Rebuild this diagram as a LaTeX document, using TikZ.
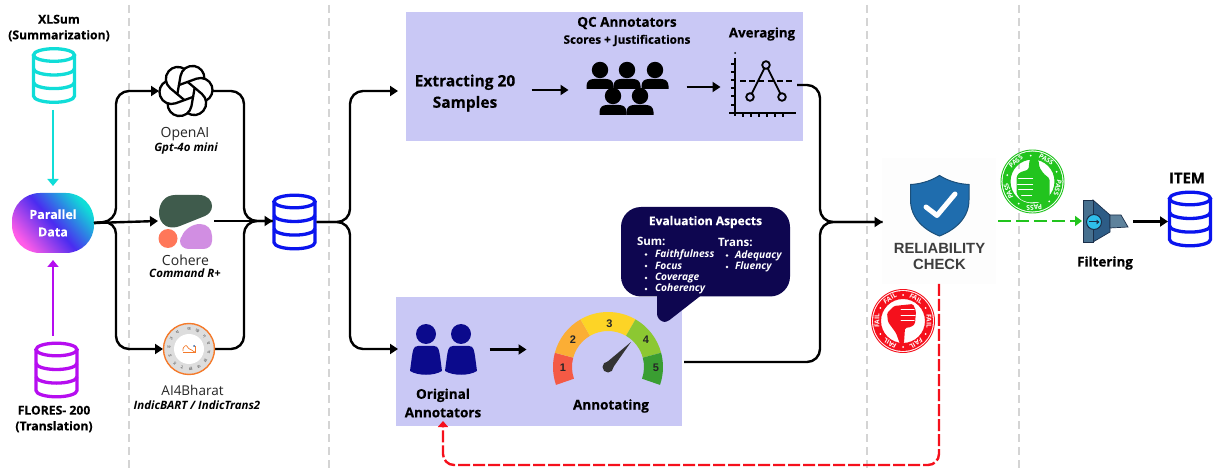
\documentclass[tikz,border=0pt]{standalone}
\usepackage{fontspec}
\setmainfont{Open Sans}
\newfontfamily\devafont[Script=Devanagari]{Noto Sans}
\newfontfamily\gaugefont{Liberation Sans}
\newfontfamily\checkfont{Liberation Sans}
\usetikzlibrary{arrows.meta}
\definecolor{panel}{HTML}{C9C8F5}
\definecolor{bubblec}{HTML}{0E0650}
\definecolor{sepc}{HTML}{D4D4D4}
\definecolor{cyanc}{HTML}{10DDD8}
\definecolor{purplec}{HTML}{B60DF0}
\definecolor{bluec}{HTML}{0A14EE}
\definecolor{annc}{HTML}{0B0A8C}
\definecolor{greenc}{HTML}{22C41E}
\definecolor{redc}{HTML}{F5101C}
\definecolor{cohG}{HTML}{3F5B4C}
\definecolor{cohO}{HTML}{FF7759}
\definecolor{cohP}{HTML}{D18EE2}
\definecolor{bhaG}{HTML}{DDDDDD}
\definecolor{bhaO}{HTML}{F47A2B}
\definecolor{bhaB}{HTML}{2F5F9E}
\definecolor{gR}{HTML}{F45A45}
\definecolor{gO}{HTML}{FBAE35}
\definecolor{gY}{HTML}{FDD426}
\definecolor{gG}{HTML}{8CC832}
\definecolor{gD}{HTML}{3A9E32}
\definecolor{dk}{HTML}{333333}
\definecolor{shF}{HTML}{1F6DAE}
\definecolor{shD}{HTML}{1B4F7A}
\definecolor{fA}{HTML}{2D5C86}
\definecolor{fB}{HTML}{5E829C}
\definecolor{fC}{HTML}{47708F}
\definecolor{fD}{HTML}{2FBEEA}
\definecolor{fE}{HTML}{1B2F4A}
\definecolor{pdP}{HTML}{FF5CE8}
\definecolor{pdV}{HTML}{4A2CF0}
\newcommand{\heavy}{\bfseries\addfontfeature{FakeBold=0.3}}
\tikzset{
 box/.style={inner sep=0pt,outer sep=0pt},
 lbl/.style={inner sep=0pt,outer sep=0pt,align=center,font=\fontsize{#1}{#1}\selectfont\heavy},
 lbl/.default=12,
 thin lbl/.style={inner sep=0pt,outer sep=0pt,align=center,text=black!85,font=\fontsize{#1}{#1}\selectfont},
 model/.style={inner sep=0pt,outer sep=0pt,align=center,font=\fontsize{11.5}{11.5}\selectfont\bfseries\itshape},
 conn/.style={draw=black,line width=2.4pt,rounded corners=13pt},
 arr/.style={-{Triangle[length=8pt,width=10pt]}},
 sep/.style={draw=sepc,line width=2pt,dash pattern=on 8pt off 5pt},
 lit/.style={inner sep=0pt,outer sep=0pt,text=white,anchor=west,font=\fontsize{10.2}{10.2}\selectfont\bfseries\itshape},
 dotc/.style={circle,fill=white,minimum size=2.8pt,inner sep=0pt},
}
\newcommand{\dbpic}[3]{%
 \begin{scope}[shift={(#1,#2)},y=1pt,line width=3.3pt,draw=#3]
 \draw (0,20.5) ellipse [x radius=20.5,y radius=6.3];
 \draw (-20.5,20.5) -- (-20.5,-20.5) arc[start angle=180,end angle=360,x radius=20.5,y radius=6.3] -- (20.5,20.5);
 \draw (-20.5,6.8) arc[start angle=180,end angle=360,x radius=20.5,y radius=6.3];
 \draw (-20.5,-6.8) arc[start angle=180,end angle=360,x radius=20.5,y radius=6.3];
 \end{scope}}
\newcommand{\qcperson}[2]{%
 \fill (#1,#2) circle[radius=8.2pt];
 \fill (#1-13.5,#2+19) -- (#1-13.5,#2+16) .. controls (#1-13.5,#2+11) and (#1-10,#2+9) .. (#1-6,#2+9) -- (#1+6,#2+9) .. controls (#1+10,#2+9) and (#1+13.5,#2+11) .. (#1+13.5,#2+16) -- (#1+13.5,#2+19) -- cycle;}
\newcommand{\annperson}[2]{%
 \fill[annc] (#1,#2) circle[radius=10pt];
 \fill[annc] (#1-8,#2+12) -- (#1+8,#2+12) .. controls (#1+13,#2+12) and (#1+13,#2+17) .. (#1+14,#2+22) -- (#1+16,#2+37) .. controls (#1+8,#2+42) and (#1-8,#2+42) .. (#1-16,#2+37) -- (#1-14,#2+22) .. controls (#1-13,#2+17) and (#1-13,#2+12) .. (#1-8,#2+12) -- cycle;}
\newcommand{\gseg}[3]{\fill[#3] (#1:55) arc[start angle=#1,end angle=#2,radius=55] -- (#2:36) arc[start angle=#2,end angle=#1,radius=36] -- cycle;}
\newcommand{\stampring}[3]{% x y color, rings
 \begin{scope}[shift={(#1,#2)},y=1pt]
 \draw[#3,line width=.9pt] (0,0) circle[radius=31.5];
 \draw[#3,line width=8pt] (0,0) circle[radius=26];
 \end{scope}}
\begin{document}
\begin{tikzpicture}[x=1pt,y=-1pt]
\useasboundingbox (0,0) rectangle (1213,470);
\fill[white] (0,0) rectangle (1213,470);
% separators
\coordinate (s1a) at (129,5); \coordinate (s1b) at (129,470);
\coordinate (s2a) at (329,5); \coordinate (s2b) at (329,470);
\coordinate (s3a) at (867,5); \coordinate (s3b) at (867,470);
\coordinate (s4a) at (1019,5); \coordinate (s4b) at (1019,470);
\draw[sep] (s1a)--(s1b); \draw[sep] (s2a)--(s2b); \draw[sep] (s3a)--(s3b); \draw[sep] (s4a)--(s4b);
% panels
\fill[panel] (406,12) rectangle (803,141);
\fill[panel] (396,297) rectangle (682,426);
% reliability backdrop
\fill[black!0.6] (882,158) rectangle (996,284);
% anchor nodes
\node[box,minimum width=82pt,minimum height=60pt,rounded corners=28pt,left color=pdP,right color=cyanc,middle color=pdV,shading angle=130,text=white,align=center,font=\fontsize{12.5}{17.5}\selectfont\heavy] (pd) at (53,223) {Parallel\\Data};
\node[box,minimum width=44pt,minimum height=54pt] (xl) at (54,75.5) {};
\node[box,minimum width=44pt,minimum height=56pt] (fl) at (56.5,370) {};
\node[box,minimum width=44pt,minimum height=55pt] (mid) at (294.5,222) {};
\node[box,minimum width=44pt,minimum height=54pt] (item) at (1190,219) {};
\node[box,minimum width=54pt,minimum height=54pt] (oai) at (186,91) {};
\node[box,minimum width=56pt,minimum height=54pt] (coh) at (186,221) {};
\node[box,minimum width=52pt,minimum height=52pt] (bha) at (189,349) {};
\node[box,minimum width=46pt,minimum height=42pt] (filt) at (1105,221) {};
% DB icons
\dbpic{54}{75.5}{cyanc}
\dbpic{56.5}{370}{purplec}
\dbpic{294.5}{222}{bluec}
\dbpic{1190}{219}{bluec}
% texts left
\node[lbl=12.2] (xlt) at (59,28) {XLSum\\[3.5pt](Summarization)};
\node[lbl=12.2] (flt) at (54,419) {FLORES- 200\\[3.5pt](Translation)};
% dataset arrows
\coordinate (xa) at (53,110); \coordinate (xb) at (53,186);
\coordinate (fa) at (53,336); \coordinate (fb) at (53,260);
\draw[cyanc,line width=2.2pt,-{Triangle[length=7pt,width=11pt]}] (xa)--(xb);
\draw[purplec,line width=2.2pt,-{Triangle[length=7pt,width=11pt]}] (fa)--(fb);
% connectors left
\coordinate (j1) at (116,221); \coordinate (j2) at (244,221);
\coordinate (j3) at (350,222);
\draw[conn,arr] (pd.east) -- (j1) |- (oai.west);
\draw[conn,arr] (pd.east) -- (j1) |- (bha.west);
\draw[conn,arr,rounded corners=0pt] (pd.east) -- (coh.west);
\draw[conn] (oai.east) -| (j2) -- (j2-|mid.west);
\draw[conn] (bha.east) -| (j2) -- (j2-|mid.west);
\draw[conn,arr,rounded corners=0pt] (coh.east) -- (j2-|mid.west);
\coordinate (up) at (398,91); \coordinate (dn) at (398,349);
\draw[conn,arr] (mid.east) -- (j3) |- (up);
\draw[conn,arr] (mid.east) -- (j3) |- (dn);
% OpenAI logo
\begin{scope}[shift={(186,91)},y=1pt,line width=2.3pt,line cap=round,rotate=20]
 \foreach \a in {0,60,...,300}{
 \begin{scope}[rotate=\a]
 \draw (-4.6,8) -- (14,8) arc[start angle=90,end angle=-83,radius=12];
 \end{scope}}
\end{scope}
% Cohere logo
\fill[cohG] (175,195) -- (199,195) .. controls (208,195) and (212,201) .. (212,206) .. controls (212,211) and (209,214) .. (205,216) -- (180,226) .. controls (175,228) and (170,228) .. (166,226) .. controls (161,223) and (159,218) .. (159,213) .. controls (159,203) and (165,195) .. (175,195) -- cycle;
\fill[cohO] (168,238.5) circle[radius=9.5pt];
\fill[cohP] (182,236) .. controls (184,230) and (192,224) .. (200,224) .. controls (207,224) and (212,229) .. (212,236) -- (212,241) .. controls (212,246) and (208,249) .. (203,249) -- (189,249) .. controls (184,249) and (180,246) .. (180,241) .. controls (180,239) and (181,237) .. (182,236) -- cycle;
% AI4Bharat logo
\fill[bhaG] (189,349) circle[radius=25pt];
\draw[bhaO,line width=1.4pt] (189,349) circle[radius=25.5pt];
\fill[white] (189,349) circle[radius=15pt];
\begin{scope}[shift={(189,349)},y=1pt]
 \foreach \a/\c in {90/क,65/ख,40/ग,15/घ,-10/च,-35/छ,-60/ज,-85/झ,-110/ट,-135/ठ,-160/ड,175/ढ,150/त,125/थ}{
 \node[box,text=black!65,rotate=\a-90,font=\devafont\fontsize{4.5}{4.5}\selectfont] at (\a:20) {\c};}
 \draw[bhaO,line width=.7pt,rounded corners=1pt] (-6,-2) -- (-6,1) -- (-3,4) -- (0,0) -- (3,-1) -- (5,-3) -- (6,-3);
 \draw[bhaO,line width=.7pt] (-6,-3) -- (6,-3) -- (6,3);
 \fill[bhaB] (5,3) circle[radius=1pt];
\end{scope}
\node[thin lbl=14] (oait) at (185,134.5) {OpenAI};
\node[model] (oaim) at (186,148.5) {Gpt-4o mini};
\node[thin lbl=14] (coht) at (185.5,260) {Cohere};
\node[model] (cohm) at (185,273) {Command R+};
\node[thin lbl=13.5] (bhat) at (192.5,390) {AI4Bharat};
\node[model] (bham) at (197,405) {IndicBART / IndicTrans2};
% top panel
\node[lbl=15.5] (ext) at (465,93) {Extracting 20\\[6pt]Samples};
\node[lbl=13.5] (qc) at (627,23) {QC Annotators};
\node[lbl=11.7] (sj) at (627,40.5) {Scores + Justifications};
\node[lbl=13.3] (avg) at (762,34) {Averaging};
\node[box,minimum width=3pt] (exta) at (533,90) {};
\node[box,minimum width=3pt] (qcp) at (570,90) {};
\node[box,minimum width=3pt] (qcq) at (685,87) {};
\node[box,minimum width=3pt] (chl) at (722,87) {};
\draw[black,line width=2.2pt,arr] (exta.west)--(qcp.west);
\draw[black,line width=2.2pt,arr] (qcq.east)--(chl.west);
\qcperson{600}{70}\qcperson{627}{70}\qcperson{655}{70}
\qcperson{613}{96}\qcperson{640}{96}
% chart
\begin{scope}[line width=1.8pt]
 \fill (735,53) circle[radius=1pt];
 \draw (735,58)--(735,116);
 \draw (729,113)--(796,113);
 \foreach \y in {64,72,80,88,96,105}{\draw (731,\y)--(735,\y);}
 \foreach \x in {743,751,759,767,775,783}{\draw (\x,113)--(\x,117);}
 \draw[dash pattern=on 6pt off 3.2pt] (740,81)--(793,81);
 \draw (750,97)--(766,65)--(782,97);
 \filldraw[fill=panel] (750,97) circle[radius=3.8pt];
 \filldraw[fill=panel] (766,65) circle[radius=3.8pt];
 \filldraw[fill=panel] (782,97) circle[radius=3.8pt];
\end{scope}
% bubble
\fill[bubblec,rounded corners=20pt] (621,207) rectangle (790,296.5);
\fill[bubblec,rounded corners=3pt] (657,285) -- (657,317) -- (662,322) -- (667,322) -- (708,290) -- cycle;
\node[lbl=12,text=white] (ev) at (705.5,222) {Evaluation Aspects};
\node[lit,font=\fontsize{11.5}{11.5}\selectfont\bfseries] (sumt) at (637,241) {Sum:};
\node[lit,font=\fontsize{11.5}{11.5}\selectfont\bfseries] (trt) at (718,242) {Trans:};
\foreach \y/\t/\n in {254.5/Faithfulness/a,266/Focus/b,278/Coverage/c,289/Coherency/d}{
 \node[dotc] (d\n) at (646,\y) {};
 \node[lit] (l\n) at (655,\y) {\t};}
\foreach \y/\t/\n in {255.5/Adequacy/e,267/Fluency/f}{
 \node[dotc] (d\n) at (727,\y) {};
 \node[lit] (l\n) at (735,\y) {\t};}
% bottom panel
\annperson{426}{334}\annperson{461}{334}
\node[lbl=13.5] (orig) at (443,403) {Original\\[5pt]Annotators};
\node[box,minimum width=3pt] (oa) at (491,349.5) {};
\node[box,minimum width=3pt] (ob) at (525,349.5) {};
\draw[black,line width=2.2pt,arr] (oa.west)--(ob.east);
\begin{scope}[shift={(608,367)},y=1pt]
 \gseg{199}{165}{gR}
 \gseg{165}{120}{gO}
 \gseg{120}{60}{gY}
 \gseg{60}{15}{gG}
 \gseg{15}{-19}{gD}
 \fill[dk] (-3.3,3) -- (23,25) -- (3.3,-3) -- cycle;
 \fill[dk] (0,0) circle[radius=5.5];
\end{scope}
\foreach \n/\x/\y in {1/563/368,2/573/340,3/609.5/323.5,4/646/340,5/656/368}{
 \node[box,font=\gaugefont\fontsize{11}{11}\selectfont\bfseries,text=black!85] (g\n) at (\x,\y) {\n};}
\node[lbl=13.5] (ann) at (611,406) {Annotating};
% flow to check
\node[box,minimum width=1pt,minimum height=58pt] (chk) at (883,222) {};
\coordinate (j4) at (820,222);
\coordinate (avg1) at (797,85);
\coordinate (ann1) at (684,362);
\draw[conn] (avg1) -| (j4) -- (chk.west);
\draw[conn,arr] (ann1) -| (j4) -- (chk.west);
% shield
\fill[shF,draw=shD,line width=1pt] (939.5,175.5) .. controls (950,182) and (960,184) .. (969,184.5) -- (969,200) .. controls (969,218) and (955,230) .. (939.5,236) .. controls (924,230) and (910.5,218) .. (910.5,200) -- (910.5,184.5) .. controls (919,184) and (929,182) .. (939.5,175.5) -- cycle;
\draw[white,line width=5pt,line cap=round,line join=round] (926,207) -- (937,215.5) -- (955,194);
\node[lbl=14.5,text=black!76,font=\checkfont\fontsize{14.8}{15}\selectfont\bfseries] (rel) at (939.5,256.5) {RELIABILITY\\[1pt]CHECK};
% red loop
\coordinate (r1) at (939,284); \coordinate (r2) at (939,465); \coordinate (r3) at (443,465); \coordinate (r4) at (443,421);
\draw[redc,line width=2.4pt,rounded corners=11pt,dash pattern=on 12pt off 3pt,-{Triangle[length=6pt,width=10pt]}] (r1)--(r2)--(r3)--(r4);
% green
\coordinate (gs) at (998,221);
\draw[greenc,line width=2.2pt,dash pattern=on 13pt off 5pt,-{Triangle[length=7pt,width=10pt]}] (gs)--(filt.west);
\coordinate (filtout) at (1133,221.5);
\draw[black,line width=2.4pt,arr] (filtout) -- (item.west|-filtout);
% filter icon
\fill[fA,draw=fE,line width=.7pt] (1093,200) -- (1110,215) -- (1110,232) -- (1093,242) -- cycle;
\fill[fB,draw=fE,line width=.7pt] (1110,215) -- (1121,215) -- (1128,227) -- (1110,228) -- cycle;
\fill[fC,draw=fE,line width=.7pt] (1083,200) rectangle (1093,242);
\fill[fD,draw=fE,line width=1pt] (1094,222) circle[radius=7.5pt];
\draw[fE,line width=1pt,-{Triangle[length=3pt,width=4.5pt]}] (1089,222)--(1099.5,222);
\node[lbl=13.4] (ft) at (1105,263) {Filtering};
\node[lbl=14.8] (itemt) at (1187,178) {ITEM};
% pass stamp
\stampring{1032.5}{181.5}{greenc}
\begin{scope}[shift={(1032.5,181.5)},y=1pt]
 \foreach \a [count=\i] in {130,58,-14,-86,202}{
 \node[box,rotate=\a-90,text=white,font=\fontsize{6.6}{6.6}\selectfont\bfseries] (ps\i) at (\a:26) {PASS};
 \node[dotc,minimum size=2pt] (pd\i) at (\a-36:26) {};}
 \fill[greenc,rounded corners=1.5pt] (-1,25) -- (3,25) -- (6,21) -- (7,14) -- (11,8) -- (17,3) -- (17,-15) -- (14,-20) -- (-4,-21) -- (-12,-18) -- (-16,-12) -- (-16,5) -- (-13,9) -- (-4,12) -- (-3,21) -- cycle;
 \draw[white,line width=1pt,line cap=round] (-14,3) -- (0,3) (-15,-3) -- (0,-3) (-14,-8.5) -- (0,-8.5) (-11,-14) -- (-1,-14);
\end{scope}
% fail stamp
\stampring{903}{321}{redc}
\begin{scope}[shift={(903,321)},y=1pt]
 \foreach \a [count=\i] in {120,60,0,-60,-120,180}{
 \node[box,rotate=\a-90,text=white,font=\fontsize{6.6}{6.6}\selectfont\bfseries] (fs\i) at (\a:26) {FAIL};
 \node[dotc,minimum size=2pt] (fd\i) at (\a-30:26) {};}
 \fill[redc,rounded corners=1.5pt] (-9,15) -- (10,17) -- (13,10) -- (12,-3) -- (8,-6) -- (2,-7) -- (1,-22) -- (-1,-25) -- (-3,-23) -- (-7,-12) -- (-15,-1) -- (-16,8) -- cycle;
 \draw[white,line width=1pt,line cap=round] (-2,11) -- (11,11) (-2,5.5) -- (12,5.5) (-2,0) -- (11,0);
\end{scope}
\end{tikzpicture}
\end{document}
